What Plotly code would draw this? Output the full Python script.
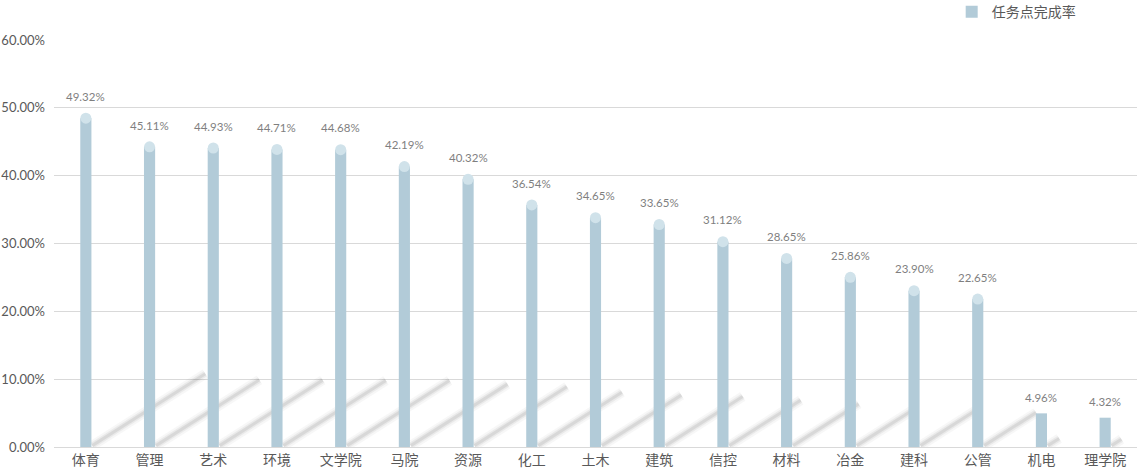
import plotly.graph_objects as go

categories = ["体育", "管理", "艺术", "环境", "文学院", "马院", "资源", "化工", "土木",
              "建筑", "信控", "材料", "冶金", "建科", "公管", "机电", "理学院"]
values = [49.32, 45.11, 44.93, 44.71, 44.68, 42.19, 40.32, 36.54, 34.65,
          33.65, 31.12, 28.65, 25.86, 23.90, 22.65, 4.96, 4.32]
y_ticks = [0, 10, 20, 30, 40, 50, 60]
series_name = "任务点完成率"

BAR = "#b2cbd8"
CAP = "#d0e2ea"
LABEL = "#7f7f7f"
AXIS_TXT = "#595959"
GRID = "#d9d9d9"
NUM_FONT = "Lato, Noto Sans CJK SC, sans-serif"
CJK_FONT = "Noto Sans CJK SC, sans-serif"
CAP_DROP = 0.85  # cap centre sits this far below the value (axis units)

idx = list(range(len(categories)))
capped = [v > 10 for v in values]

fig = go.Figure()

# soft perspective shadows (behind bars, on base axes)
for layer_w, layer_op in [(10, 0.05), (6, 0.08), (3, 0.12)]:
    sx, sy = [], []
    for i, v in zip(idx, values):
        sx += [i + 0.1, i + 0.1 + 0.036 * v, None]
        sy += [0.2, 0.2 + 0.215 * v, None]
    fig.add_trace(go.Scatter(x=sx, y=sy, mode="lines", xaxis="x", yaxis="y",
                             line=dict(color=f"rgba(90,90,90,{layer_op})", width=layer_w),
                             hoverinfo="skip", showlegend=False))

# bars (cylinders end at cap centre when capped)
bar_h = [v - CAP_DROP if c else v for v, c in zip(values, capped)]
fig.add_trace(go.Bar(x=idx, y=bar_h, name=series_name, xaxis="x2", yaxis="y2",
                     marker=dict(color=BAR, line=dict(width=0)), width=0.175,
                     showlegend=True, hoverinfo="skip"))

# cylinder caps
cap_x = [i for i, c in zip(idx, capped) if c]
cap_y = [v - CAP_DROP for v, c in zip(values, capped) if c]
fig.add_trace(go.Scatter(x=cap_x, y=cap_y, mode="markers", xaxis="x2", yaxis="y2",
                         marker=dict(color=CAP, size=11, symbol="circle", line=dict(width=0)),
                         hoverinfo="skip", showlegend=False))

annotations = []
for i, v in zip(idx, values):
    annotations.append(dict(x=i, y=v, xref="x2", yref="y2", text=f"{v:.2f}%",
                            showarrow=False, yshift=16, yanchor="middle",
                            font=dict(family=NUM_FONT, size=11.5, color=LABEL)))

xr = [-0.5, len(categories) - 0.5]
yr = [0, 60]
fig.update_layout(
    width=1141, height=476,
    margin=dict(l=54, r=4, t=40, b=29, autoexpand=False),
    paper_bgcolor="white", plot_bgcolor="white",
    hovermode=False,
    xaxis=dict(range=xr, tickmode="array", tickvals=idx, ticktext=categories,
               showgrid=False, zeroline=False, showline=True, linecolor=GRID, linewidth=1,
               ticks="", tickfont=dict(family=CJK_FONT, size=14, color=AXIS_TXT),
               fixedrange=True, automargin=False),
    yaxis=dict(range=yr, tickmode="array", tickvals=y_ticks,
               ticktext=[f"{t:.2f}%" for t in y_ticks],
               showgrid=True, gridcolor=GRID, gridwidth=1, zeroline=False,
               showline=False, ticks="", ticklabelstandoff=8,
               tickfont=dict(family=NUM_FONT, size=13, color=AXIS_TXT),
               fixedrange=True, automargin=False),
    xaxis2=dict(range=xr, overlaying="x", visible=False, fixedrange=True),
    yaxis2=dict(range=yr, overlaying="y", visible=False, fixedrange=True),
    legend=dict(orientation="h", x=0.948, xanchor="right", y=1.108, yanchor="top",
                font=dict(family=CJK_FONT, size=14, color=AXIS_TXT),
                bgcolor="rgba(0,0,0,0)"),
    annotations=annotations,
    showlegend=True,
)

# remove the browser's default 8px body margin so the figure fills the window
fig.write_html("out.html", config={"displayModeBar": False},
               post_script="document.body.style.margin='0';")
